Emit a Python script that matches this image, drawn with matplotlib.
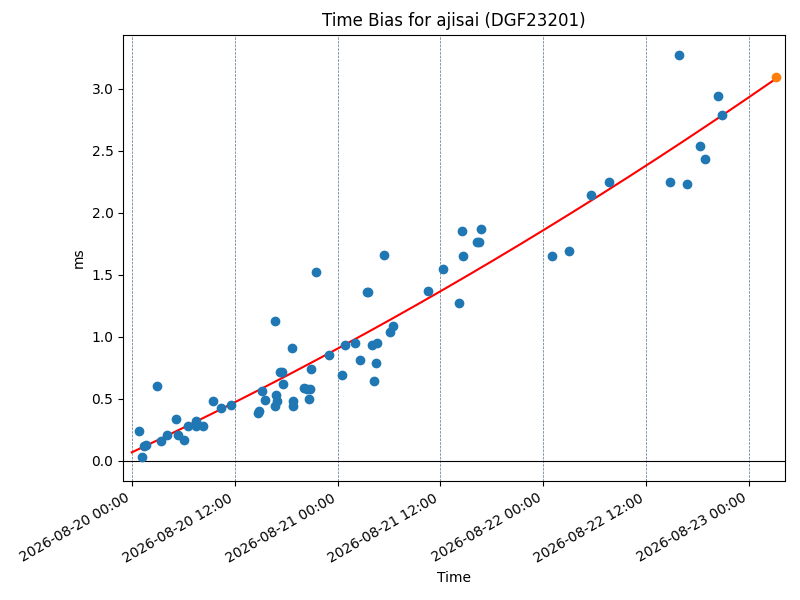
import numpy as np
import pandas as pd
import matplotlib
matplotlib.use('Agg')
import matplotlib.pyplot as plt
import matplotlib.dates as mdates

# Data
start = pd.Timestamp('2026-08-20 00:00')
# hours after start of each normal point
hours = [0.82, 1.17, 1.40, 1.63, 2.91, 3.38, 4.08, 5.13, 5.36, 6.06,
         6.52, 7.46, 7.46, 8.27, 9.44, 10.37, 11.53, 14.68, 14.80, 15.15,
         15.50, 16.66, 16.66, 16.78, 16.89, 17.24, 17.48, 17.59, 18.64, 18.76,
         18.76, 20.04, 20.39, 20.62, 20.74, 20.85, 21.44, 22.95, 24.47, 24.82,
         25.98, 26.56, 27.38, 27.50, 27.96, 28.19, 28.43, 28.54, 29.36, 30.17,
         30.52, 34.60, 36.35, 38.21, 38.45, 38.68, 40.31, 40.54, 40.78, 49.05,
         51.03, 53.59, 55.69, 62.80, 63.84, 64.78, 66.29, 66.87, 68.39, 68.85]
bias_ms = [0.24, 0.03, 0.12, 0.13, 0.60, 0.16, 0.21, 0.34, 0.21, 0.17,
           0.28, 0.32, 0.28, 0.28, 0.48, 0.43, 0.45, 0.39, 0.40, 0.56,
           0.49, 1.13, 0.44, 0.53, 0.48, 0.72, 0.72, 0.62, 0.91, 0.48,
           0.44, 0.59, 0.58, 0.50, 0.58, 0.74, 1.52, 0.85, 0.69, 0.93,
           0.95, 0.81, 1.36, 1.36, 0.93, 0.64, 0.79, 0.95, 1.66, 1.04,
           1.09, 1.37, 1.55, 1.27, 1.85, 1.65, 1.76, 1.76, 1.87, 1.65,
           1.69, 2.14, 2.25, 2.25, 3.27, 2.23, 2.54, 2.43, 2.94, 2.79]
# predicted bias at the end time
pred_hours = 75.15
pred_ms = 3.09

times = start + pd.to_timedelta(hours, unit='h')
pred_time = start + pd.to_timedelta(pred_hours, unit='h')

# quadratic fit of the bias
coef = np.polyfit(hours, bias_ms, 2)
fit_h = np.linspace(0, pred_hours, 200)
fit_t = start + pd.to_timedelta(fit_h, unit='h')

fig, ax = plt.subplots(figsize=(8, 6), dpi=100)
ax.scatter(times, bias_ms, zorder=3)
ax.plot(fit_t, np.polyval(coef, fit_h), color='red')
ax.scatter([pred_time], [pred_ms], zorder=3)
ax.axhline(0, color='black', linewidth=0.8)

ax.xaxis.set_major_locator(mdates.HourLocator(byhour=[0, 12]))
ax.xaxis.set_major_formatter(mdates.DateFormatter('%Y-%m-%d %H:%M'))
ax.grid(axis='x', linestyle='--', linewidth=0.5, color='#55708c')
ax.set_xlim(start - pd.Timedelta(hours=1), pred_time + pd.Timedelta(hours=1))
span = max(bias_ms)
ax.set_ylim(-0.05 * span, 1.05 * span)

ax.set_title('Time Bias for ajisai (DGF23201)')
ax.set_xlabel('Time')
ax.set_ylabel('ms')
fig.autofmt_xdate()
fig.subplots_adjust(left=0.154, right=0.981, top=0.942, bottom=0.198)
plt.savefig('out.png')
